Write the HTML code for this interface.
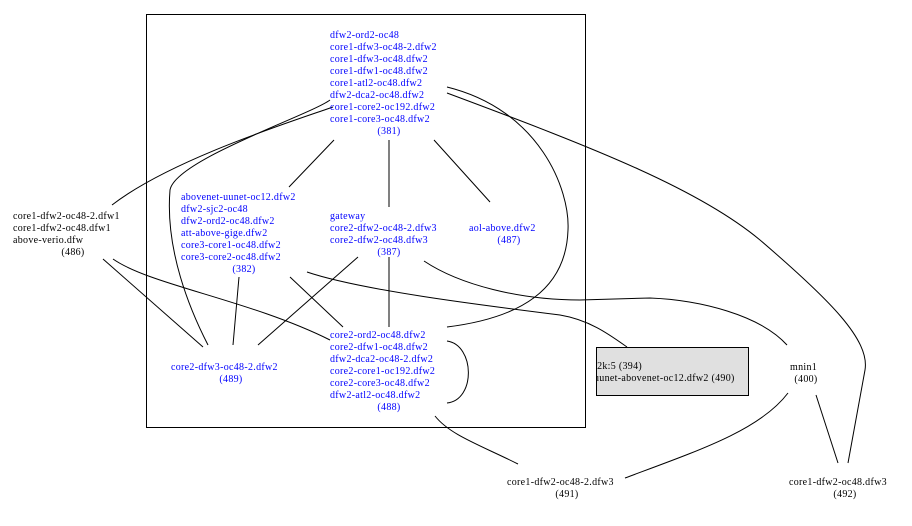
<!DOCTYPE html>
<html><head><meta charset="utf-8"><style>
html,body{margin:0;padding:0;background:#fff;}
svg{display:block;}
text{font-family:"Liberation Serif",serif;font-size:10px;letter-spacing:0.3px;}
.b{fill:#0000ff;}
.k{fill:#000;}
path,line{fill:none;stroke:#000;stroke-width:1;}
</style></head><body>
<svg width="912" height="526" viewBox="0 0 912 526" xmlns="http://www.w3.org/2000/svg">
<rect x="146.5" y="14.5" width="439" height="413" fill="none" stroke="#000"/>
<rect x="596.5" y="347.5" width="152" height="48" fill="#e0e0e0" stroke="#000"/>

<!-- edges -->
<path d="M333,107 C290,122 170,160 112,205"/>
<path d="M330,100 C310,115 175,160 170,190 C165,250 190,310 208,345"/>
<line x1="334" y1="140" x2="289" y2="187"/>
<line x1="389" y1="140" x2="389" y2="207"/>
<line x1="434" y1="140" x2="490" y2="202"/>
<path d="M447,87 C540,110 570,190 568,230 C566,290 520,318 447,327"/>
<path d="M447,93 C600,150 700,190 760,240 C830,300 870,340 865,370 L848,463"/>
<line x1="239" y1="277" x2="233" y2="345"/>
<line x1="358" y1="257" x2="258" y2="345"/>
<line x1="389" y1="257" x2="389" y2="327"/>
<path d="M424,261 C460,285 520,300 580,300 L650,298 C700,300 760,315 787,345"/>
<line x1="290" y1="277" x2="343" y2="327"/>
<line x1="103" y1="259" x2="203" y2="347"/>
<path d="M113,259 C150,285 250,300 330,340"/>
<path d="M307,272 C360,290 480,305 560,315 C590,320 610,335 627,347"/>
<path d="M447,341 C475,345 476,400 447,403"/>
<path d="M435,416 C450,435 480,445 518,464"/>
<path d="M788,393 C760,430 700,450 625,478"/>
<line x1="816" y1="395" x2="838" y2="463"/>

<!-- 381 -->
<g class="b">
<text x="330" y="38">dfw2-ord2-oc48</text>
<text x="330" y="50">core1-dfw3-oc48-2.dfw2</text>
<text x="330" y="62">core1-dfw3-oc48.dfw2</text>
<text x="330" y="74">core1-dfw1-oc48.dfw2</text>
<text x="330" y="86">core1-atl2-oc48.dfw2</text>
<text x="330" y="98">dfw2-dca2-oc48.dfw2</text>
<text x="330" y="110">core1-core2-oc192.dfw2</text>
<text x="330" y="122">core1-core3-oc48.dfw2</text>
<text x="389" y="134" text-anchor="middle">(381)</text>

<text x="181" y="200">abovenet-uunet-oc12.dfw2</text>
<text x="181" y="212">dfw2-sjc2-oc48</text>
<text x="181" y="224">dfw2-ord2-oc48.dfw2</text>
<text x="181" y="236">att-above-gige.dfw2</text>
<text x="181" y="248">core3-core1-oc48.dfw2</text>
<text x="181" y="260">core3-core2-oc48.dfw2</text>
<text x="244" y="272" text-anchor="middle">(382)</text>

<text x="330" y="219">gateway</text>
<text x="330" y="231">core2-dfw2-oc48-2.dfw3</text>
<text x="330" y="243">core2-dfw2-oc48.dfw3</text>
<text x="389" y="255" text-anchor="middle">(387)</text>

<text x="469" y="231">aol-above.dfw2</text>
<text x="509" y="243" text-anchor="middle">(487)</text>

<text x="171" y="370">core2-dfw3-oc48-2.dfw2</text>
<text x="231" y="382" text-anchor="middle">(489)</text>

<text x="330" y="338">core2-ord2-oc48.dfw2</text>
<text x="330" y="350">core2-dfw1-oc48.dfw2</text>
<text x="330" y="362">dfw2-dca2-oc48-2.dfw2</text>
<text x="330" y="374">core2-core1-oc192.dfw2</text>
<text x="330" y="386">core2-core3-oc48.dfw2</text>
<text x="330" y="398">dfw2-atl2-oc48.dfw2</text>
<text x="389" y="410" text-anchor="middle">(488)</text>
</g>

<g class="k">
<text x="13" y="219">core1-dfw2-oc48-2.dfw1</text>
<text x="13" y="231">core1-dfw2-oc48.dfw1</text>
<text x="13" y="243">above-verio.dfw</text>
<text x="73" y="255" text-anchor="middle">(486)</text>

<svg x="597" y="348" width="151" height="47" overflow="hidden">
<text x="-3" y="21">l2k:5 (394)</text>
<text x="-3" y="33">uunet-abovenet-oc12.dfw2 (490)</text>
</svg>

<text x="790" y="370">mnin1</text>
<text x="806" y="382" text-anchor="middle">(400)</text>

<text x="507" y="485">core1-dfw2-oc48-2.dfw3</text>
<text x="567" y="497" text-anchor="middle">(491)</text>

<text x="789" y="485">core1-dfw2-oc48.dfw3</text>
<text x="845" y="497" text-anchor="middle">(492)</text>
</g>
</svg>
</body></html>
